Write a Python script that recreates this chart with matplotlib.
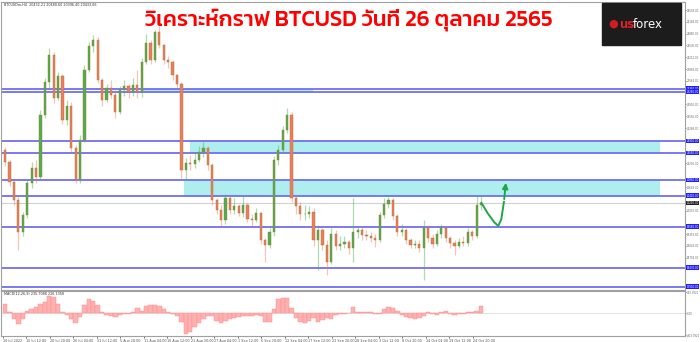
import numpy as np
import matplotlib
matplotlib.use("Agg")
import matplotlib.pyplot as plt

# BTCUSD, one bar per day from 10 Jul 2022 to 26 Oct 2022
first_open = 21660
closes = [21330, 20780, 20290, 19410, 19880, 20760, 21170, 20920, 22620, 23530,
          24270, 23090, 23700, 22490, 22870, 21720, 20840, 21940, 23860, 24520,
          24680, 23590, 23040, 23370, 23170, 22710, 23310, 23420, 23260, 23450,
          23260, 24080, 24600, 24130, 24900, 24550, 24130, 24080, 23720, 23480,
          21110, 21310, 21280, 21390, 21610, 21720, 21250, 20290, 20020, 19740,
          20350, 20020, 20130, 19930, 20150, 19770, 19740, 19930, 19190, 19060,
          19410, 21390, 21660, 22210, 22620, 20350, 20130, 19910, 19910, 19960,
          19190, 19470, 19060, 18590, 19360, 19030, 19080, 19140, 18970, 19410,
          19470, 19330, 19300, 19250, 19190, 19880, 20180, 20290, 19850, 19410,
          19470, 19190, 19060, 19080, 18970, 19520, 19250, 19080, 19360, 19520,
          19250, 19110, 19030, 19140, 19110, 19410, 19300, 20150, 20210]
highs = [21750, 21390, 20840, 20430, 19960, 20840, 21330, 21390, 22760, 23640,
         24460, 24350, 23810, 23750, 23040, 22980, 21800, 22080, 24000, 24630,
         24820, 24770, 23640, 23480, 23590, 23310, 23420, 23590, 23480, 23640,
         23860, 24190, 24850, 24680, 24960, 25070, 24570, 24240, 24130, 23750,
         23530, 21440, 21530, 21610, 21770, 21880, 21770, 21310, 20350, 20150,
         20460, 20400, 20350, 20180, 20400, 20210, 19910, 20070, 19960, 19250,
         19520, 21500, 21800, 22320, 22820, 22710, 20400, 20240, 20150, 20130,
         20070, 19600, 19520, 19190, 19520, 19470, 19300, 19300, 19190, 20350,
         19580, 19580, 19470, 19410, 19360, 19960, 20350, 20370, 20350, 19910,
         19630, 19520, 19250, 19190, 19190, 19740, 19600, 19360, 19470, 19630,
         19580, 19300, 19190, 19250, 19300, 19520, 19470, 20430, 20400]
lows = [21220, 20680, 20150, 18920, 19300, 19800, 20620, 20760, 20840, 22540,
        23370, 22950, 23040, 22380, 22350, 21610, 20760, 20760, 21880, 23810,
        24350, 23500, 22870, 22980, 23090, 22540, 22650, 23150, 23090, 23150,
        23090, 23120, 24030, 24030, 24080, 24460, 24030, 23920, 23590, 23370,
        20890, 20840, 21110, 21170, 21330, 21470, 21110, 20150, 19910, 19580,
        19630, 19910, 19910, 19850, 19820, 19690, 19580, 19690, 19080, 18590,
        18970, 19300, 21250, 21610, 22130, 20240, 19910, 19740, 19740, 19800,
        19030, 18370, 18920, 18230, 18530, 18920, 18920, 18970, 18810, 18590,
        19250, 19190, 19190, 19140, 19000, 19140, 19800, 20070, 19740, 19300,
        19300, 19080, 18970, 18970, 18860, 18090, 19140, 18970, 19030, 19250,
        19140, 18970, 18780, 18970, 19030, 19030, 19190, 19250, 20020]

# MACD histogram, same days
macd = [166, 23, -102, -192, -102, 41, 77, 113, 166, 202,
        310, 292, 166, 23, -30, -102, -174, -66, 149, 256,
        220, 149, 23, -30, -48, -66, -30, -13, -4, 23,
        95, 41, 131, 149, 149, 131, 77, 23, -13, -48,
        -156, -370, -335, -245, -174, -102, -48, -48, -138, -174,
        -138, -102, -84, -66, -48, -48, -48, -30, -48, -156,
        -156, 77, 256, 274, 274, 100, -84, -156, -174, -138,
        -84, -156, -120, -84, -102, -30, -13, -4, 5, 113,
        23, 23, 23, 23, -13, -13, 77, 113, 95, 41,
        -30, -66, -84, -102, -84, -48, 23, -13, -30, 23,
        41, -13, -30, -13, -4, 23, 23, 41, 131]

# support / resistance lines and boxes
levels = [23350, 23260, 21910, 21580, 20840, 20410, 19560, 18430, 17910]
zone_low = [23260, 21580, 20410]
zone_high = [23350, 21910, 20840]
zone_start = [31.3, 41.9, 40.6]
zone_end = [69.9, 148.6, 148.6]

# expected move (green arrow)
arrow_days = [108.1, 109.5, 111.0, 111.9, 112.6, 113.2, 113.7]
arrow_prices = [20210, 19930, 19680, 19580, 19760, 20240, 20840]

date_labels = ["10 Jul 2022", "15 Jul 12:00", "20 Jul 20:00", "26 Jul 04:00", "31 Jul 12:00",
               "5 Aug 20:00", "11 Aug 04:00", "16 Aug 12:00", "21 Aug 20:00", "27 Aug 04:00",
               "1 Sep 12:00", "6 Sep 20:00", "12 Sep 04:00", "17 Sep 12:00", "22 Sep 20:00",
               "28 Sep 04:00", "3 Oct 12:00", "8 Oct 20:00", "14 Oct 04:00", "19 Oct 12:00",
               "24 Oct 20:00"]

title = "วิเคราะห์กราฟ BTCUSD วันที่ 26 ตุลาคม 2565"

plt.rcParams["font.family"] = ["DejaVu Sans"]
fig = plt.figure(figsize=(7, 3.42), dpi=100)
ax = fig.add_axes([0.0014, 0.152, 0.9772, 0.842])
ax2 = fig.add_axes([0.0014, 0.0175, 0.9772, 0.1315])

opens = [first_open] + closes[:-1]
x = np.arange(len(closes))
up = np.array(closes) >= np.array(opens)
cols = np.where(up, "#4fae4f", "#f07c60")
ax.vlines(x, lows, highs, colors=cols, linewidth=0.9, alpha=0.45, zorder=3)
ax.bar(x, np.array(closes) - np.array(opens), bottom=opens, width=0.5,
       color=cols, edgecolor="#9a7a30", linewidth=0.3, zorder=4)

for lo, hi, a, b in zip(zone_low, zone_high, zone_start, zone_end):
    ax.fill_between([a, b], lo, hi, color="#afeeee", zorder=1, linewidth=0)
for lv in levels:
    ax.axhline(lv, color="#7070f0", linewidth=1.3, zorder=2)
ax.axhline(closes[-1], color="#d0d0d0", linewidth=0.8, zorder=1)

ax.plot(arrow_days[:-1], arrow_prices[:-1], color="#1ea64a", linewidth=1.4, zorder=5)
ax.annotate("", xy=(arrow_days[-1], arrow_prices[-1]), xytext=(arrow_days[-2], arrow_prices[-2]),
            arrowprops=dict(arrowstyle="-|>", color="#1ea64a", lw=1.4, mutation_scale=8), zorder=5)

ax.set_xlim(-0.95, 154.3)
ax.set_ylim(17819, 25727)
ax.yaxis.tick_right()
yt = 25508 - 324 * np.arange(24)
yt = [v for v in yt if min(abs(v - lv) for lv in levels + [closes[-1]]) > 160]
ax.set_yticks(yt)
ax.set_yticklabels(["%.2f" % v for v in yt], fontsize=1.9, color="#666666")
ax.tick_params(axis="y", length=1.0, width=0.4, pad=0.5)
ax.set_xticks([])
for lv in levels:
    ax.text(1.002, lv, "%.2f" % lv, transform=ax.get_yaxis_transform(), fontsize=1.9,
            color="white", va="center", ha="left",
            bbox=dict(boxstyle="square,pad=0.15", fc="#2020ff", ec="none"))
ax.text(1.002, closes[-1], "%.2f" % closes[-1], transform=ax.get_yaxis_transform(), fontsize=1.9,
        color="white", va="center", ha="left",
        bbox=dict(boxstyle="square,pad=0.15", fc="#202020", ec="none"))
for s in ax.spines.values():
    s.set_color("#a0a0a0")
    s.set_linewidth(0.8)
ax.text(0.004, 0.995, "BTCUSDm,H4  20432.21 20480.60 20396.40 20433.66", transform=ax.transAxes,
        fontsize=2.4, va="top", color="#333333")

ax2.bar(x, macd, width=1.0, color="#ffb0b0", edgecolor="#ff8a8a", linewidth=0.3)
ax2.axhline(0, color="#dddddd", linewidth=0.6, zorder=0)
ax2.set_xlim(-0.95, 154.3)
ax2.set_ylim(-406, 399)
ax2.yaxis.tick_right()
ax2.set_yticks([380, 0, -390])
ax2.set_yticklabels(["403.3921", "0.00", "-403.3921"], fontsize=1.9, color="#666666")
ax2.tick_params(axis="y", length=1.0, width=0.4, pad=0.5)
ax2.set_xticks(np.arange(len(date_labels)) * 5.333 - 0.5)
ax2.set_xticklabels(date_labels, fontsize=2.4, color="#555555", ha="left")
ax2.tick_params(axis="x", length=1.2, width=0.4, pad=0.6)
for s in ax2.spines.values():
    s.set_color("#a0a0a0")
    s.set_linewidth(0.8)
ax2.text(0.004, 0.97, "MACD(12,26,9) 235.7088 226.1358", transform=ax2.transAxes,
         fontsize=2.4, va="top", color="#333333")

fig.text(0.499, 0.942, title, fontsize=16, color="#ff0000", ha="center", va="center",
         family=["Kanit", "DejaVu Sans"], fontweight="medium")

# logo box
fig.patches.append(plt.Rectangle((602 / 700, 1 - 45 / 342), 79 / 700, 42 / 342,
                                 transform=fig.transFigure, color="#1c1c1c", zorder=10))
fig.text(613 / 700, 1 - 24 / 342, "●", color="#d01c24", fontsize=8, ha="center", va="center", zorder=11)
fig.text(619 / 700, 1 - 24 / 342, "us", color="#e0202a", fontsize=8.5, ha="left", va="center",
         fontweight="bold", zorder=11)
fig.text(633 / 700, 1 - 24 / 342, "forex", color="white", fontsize=8.5, ha="left", va="center", zorder=11)

fig.savefig("out.png", dpi=100)
